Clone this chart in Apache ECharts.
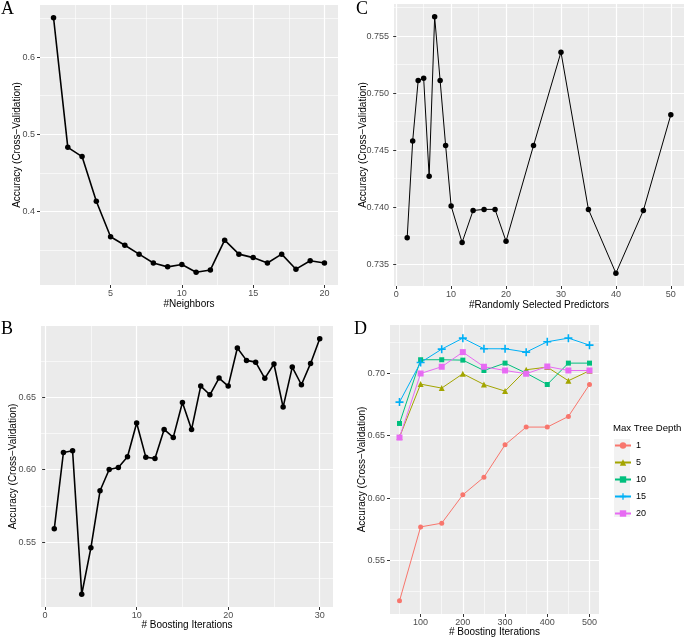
<!DOCTYPE html>
<html>
<head>
<meta charset="utf-8">
<script src="https://cdn.jsdelivr.net/npm/echarts@6/dist/echarts.min.js"></script>
<style>
  html, body { margin: 0; padding: 0; background: #fff; }
  #main { width: 685px; height: 639px; }
</style>
</head>
<body>
<div id="main"></div>
<script>
// A: kNN
const neighbors = [1, 2, 3, 4, 5, 6, 7, 8, 9, 10, 11, 12, 13, 14, 15, 16, 17, 18, 19, 20];
const knnAccuracy = [0.651, 0.483, 0.471, 0.413, 0.367, 0.356, 0.3445, 0.333, 0.328, 0.331,
  0.321, 0.324, 0.3626, 0.3445, 0.340, 0.333, 0.3445, 0.325, 0.336, 0.333];
const aXTicks = [5, 10, 15, 20];
const aXMinor = [2.5, 7.5, 12.5, 17.5];
const aYTicks = [0.4, 0.5, 0.6];
const aYMinor = [0.35, 0.45, 0.55, 0.65];

// C: random forest
const predictors = [2, 3, 4, 5, 6, 7, 8, 9, 10, 12, 14, 16, 18, 20, 25, 30, 35, 40, 45, 50];
const rfAccuracy = [0.7373, 0.7458, 0.7511, 0.7513, 0.7427, 0.7567, 0.7511, 0.7454, 0.7401, 0.7369,
  0.7397, 0.7398, 0.7398, 0.7370, 0.7454, 0.7536, 0.7398, 0.7342, 0.7397, 0.7481];
const cXTicks = [0, 10, 20, 30, 40, 50];
const cXMinor = [5, 15, 25, 35, 45];
const cYTicks = [0.735, 0.740, 0.745, 0.750, 0.755];
const cYMinor = [0.7375, 0.7425, 0.7475, 0.7525, 0.7575];

// B: boosting
const boostIter = [1, 2, 3, 4, 5, 6, 7, 8, 9, 10, 11, 12, 13, 14, 15, 16, 17, 18, 19, 20,
  21, 22, 23, 24, 25, 26, 27, 28, 29, 30];
const boostAccuracy = [0.5592, 0.6118, 0.6130, 0.5141, 0.5461, 0.5854, 0.6001, 0.6015, 0.6089, 0.6321,
  0.6086, 0.6077, 0.6277, 0.6222, 0.6463, 0.6277, 0.6576, 0.6516, 0.6631, 0.6576,
  0.6838, 0.6753, 0.6741, 0.6629, 0.6728, 0.6431, 0.6707, 0.6585, 0.6732, 0.6902];
const bXTicks = [0, 10, 20, 30];
const bXMinor = [5, 15, 25];
const bYTicks = [0.55, 0.60, 0.65];
const bYMinor = [0.525, 0.575, 0.625, 0.675];

// D: gbm by tree depth
const gbmIter = [50, 100, 150, 200, 250, 300, 350, 400, 450, 500];
const depthNames = ['1', '5', '10', '15', '20'];
const depth1 = [0.5177, 0.5769, 0.5799, 0.6026, 0.6167, 0.6426, 0.6568, 0.6568, 0.6653, 0.6909];
const depth5 = [0.6488, 0.6912, 0.6880, 0.6995, 0.6909, 0.6856, 0.7027, 0.7048, 0.6939, 0.7019];
const depth10 = [0.6597, 0.7107, 0.7107, 0.7104, 0.7021, 0.7080, 0.7000, 0.6909, 0.7080, 0.7080];
const depth15 = [0.6768, 0.7085, 0.7192, 0.7280, 0.7195, 0.7195, 0.7168, 0.7251, 0.7280, 0.7224];
const depth20 = [0.6484, 0.6997, 0.7051, 0.7168, 0.7051, 0.7021, 0.6995, 0.7053, 0.7021, 0.7021];
const dXTicks = [100, 200, 300, 400, 500];
const dXMinor = [50, 150, 250, 350, 450];
const dYTicks = [0.55, 0.60, 0.65, 0.70];
const dYMinor = [0.525, 0.575, 0.625, 0.675, 0.725];

const FONT = "'Liberation Sans', Arial, sans-serif";
const YTITLE = 'Accuracy (Cross\u2212Validation)';
const hue = ['#F8766D', '#A3A500', '#00BF7D', '#00B0F6', '#E76BF3'];

// ggplot style 5% padding
function padRange(vals) {
  const lo = Math.min(...vals), hi = Math.max(...vals);
  const pad = (hi - lo) * 0.05;
  return [lo - pad, hi + pad];
}

function axis(gridIndex, range, ticks, o) {
  return {
    type: 'value', gridIndex, min: range[0], max: range[1], position: o.position,
    axisLine: { show: false },
    axisTick: { show: !!o.major, length: 3, lineStyle: { color: '#333', width: 1 }, customValues: ticks },
    axisLabel: o.major
      ? { show: true, customValues: ticks, formatter: v => v.toFixed(o.digits), color: '#4D4D4D',
          fontSize: 9, fontFamily: FONT, margin: o.margin }
      : { show: false },
    splitLine: { show: true, lineStyle: { color: '#fff', width: o.major ? 1.2 : 0.6 } },
    name: o.name || '', nameLocation: 'middle', nameGap: o.nameGap || 0, nameMoveOverlap: false,
    nameTextStyle: { color: '#000', fontSize: 10, fontFamily: FONT }
  };
}

const aX = padRange(neighbors), aY = padRange(knnAccuracy);
const cX = padRange(predictors), cY = padRange(rfAccuracy);
const bX = padRange(boostIter), bY = padRange(boostAccuracy);
const dX = padRange(gbmIter), dY = padRange([...depth1, ...depth5, ...depth10, ...depth15, ...depth20]);

const xAxes = [
  axis(0, aX, aXTicks, { position: 'bottom', major: true, digits: 0, margin: 4, name: '#Neighbors', nameGap: 14 }),
  axis(0, aX, aXMinor, { position: 'bottom' }),
  axis(1, cX, cXTicks, { position: 'bottom', major: true, digits: 0, margin: 4, name: '#Randomly Selected Predictors', nameGap: 14 }),
  axis(1, cX, cXMinor, { position: 'bottom' }),
  axis(2, bX, bXTicks, { position: 'bottom', major: true, digits: 0, margin: 4, name: '# Boosting Iterations', nameGap: 13 }),
  axis(2, bX, bXMinor, { position: 'bottom' }),
  axis(3, dX, dXTicks, { position: 'bottom', major: true, digits: 0, margin: 4, name: '# Boosting Iterations', nameGap: 13 }),
  axis(3, dX, dXMinor, { position: 'bottom' })
];
const yAxes = [
  axis(0, aY, aYTicks, { position: 'left', major: true, digits: 1, margin: 5, name: YTITLE, nameGap: 18 }),
  axis(0, aY, aYMinor, { position: 'left' }),
  axis(1, cY, cYTicks, { position: 'left', major: true, digits: 3, margin: 5, name: YTITLE, nameGap: 26 }),
  axis(1, cY, cYMinor, { position: 'left' }),
  axis(2, bY, bYTicks, { position: 'left', major: true, digits: 2, margin: 5, name: YTITLE, nameGap: 23 }),
  axis(2, bY, bYMinor, { position: 'left' }),
  axis(3, dY, dYTicks, { position: 'left', major: true, digits: 2, margin: 5, name: YTITLE, nameGap: 23 }),
  axis(3, dY, dYMinor, { position: 'left' })
];

function blackLine(xs, ys, idx, width) {
  return {
    type: 'line', xAxisIndex: idx, yAxisIndex: idx,
    data: xs.map((x, i) => [x, ys[i]]),
    symbol: 'circle', symbolSize: 5.5,
    lineStyle: { color: '#000', width },
    itemStyle: { color: '#000' }
  };
}

const plusPath = 'path://M4,0H6V4H10V6H6V10H4V6H0V4H4Z';
const depthSeries = [depth1, depth5, depth10, depth15, depth20];
const depthSymbols = ['circle', 'triangle', 'rect', plusPath, 'rect'];
const depthSizes = [5, 6, 5, 8, 6];

const gbmLines = depthSeries.map((ys, k) => ({
  type: 'line', name: depthNames[k], xAxisIndex: 6, yAxisIndex: 6,
  data: gbmIter.map((x, i) => [x, ys[i]]),
  symbol: depthSymbols[k], symbolSize: depthSizes[k],
  lineStyle: { color: hue[k], width: 1 },
  itemStyle: { color: hue[k] }
}));

const chart = echarts.init(document.getElementById('main'), null, { renderer: 'canvas' });
chart.setOption({
  animation: false,
  backgroundColor: '#fff',
  textStyle: { fontFamily: FONT },
  title: [
    { text: 'A', left: 1, top: 0 },
    { text: 'C', left: 356, top: 0 },
    { text: 'B', left: 1, top: 320 },
    { text: 'D', left: 354, top: 320 }
  ].map(t => Object.assign(t, { padding: 0, textStyle: { fontFamily: "'Liberation Serif', 'DejaVu Serif', serif", fontSize: 18, fontWeight: 'normal', color: '#000' } })),
  grid: [
    { left: 40, top: 5, width: 298, height: 280 },
    { left: 394, top: 4, width: 290, height: 282 },
    { left: 41, top: 326, width: 292, height: 281 },
    { left: 390, top: 325, width: 209, height: 289 }
  ].map(g => Object.assign(g, { show: true, backgroundColor: '#EBEBEB', borderWidth: 0, containLabel: false, outerBoundsMode: 'none' })),
  xAxis: xAxes,
  yAxis: yAxes,
  legend: {
    orient: 'vertical', left: 614, top: 441, padding: 0,
    itemWidth: 16, itemHeight: 8, itemGap: 8,
    data: depthNames,
    textStyle: { fontSize: 9, color: '#000', fontFamily: FONT }
  },
  graphic: [
    { type: 'rect', shape: { x: 614, y: 439, width: 16, height: 78 }, style: { fill: '#F2F2F2' }, z: -1 },
    { type: 'text', left: 613, top: 423, style: { text: 'Max Tree Depth', fontSize: 9.6, fontFamily: FONT, fill: '#000' } }
  ],
  series: [
    blackLine(neighbors, knnAccuracy, 0, 1.6),
    blackLine(predictors, rfAccuracy, 2, 1),
    blackLine(boostIter, boostAccuracy, 4, 1.6),
    ...gbmLines
  ]
});
</script>
</body>
</html>
